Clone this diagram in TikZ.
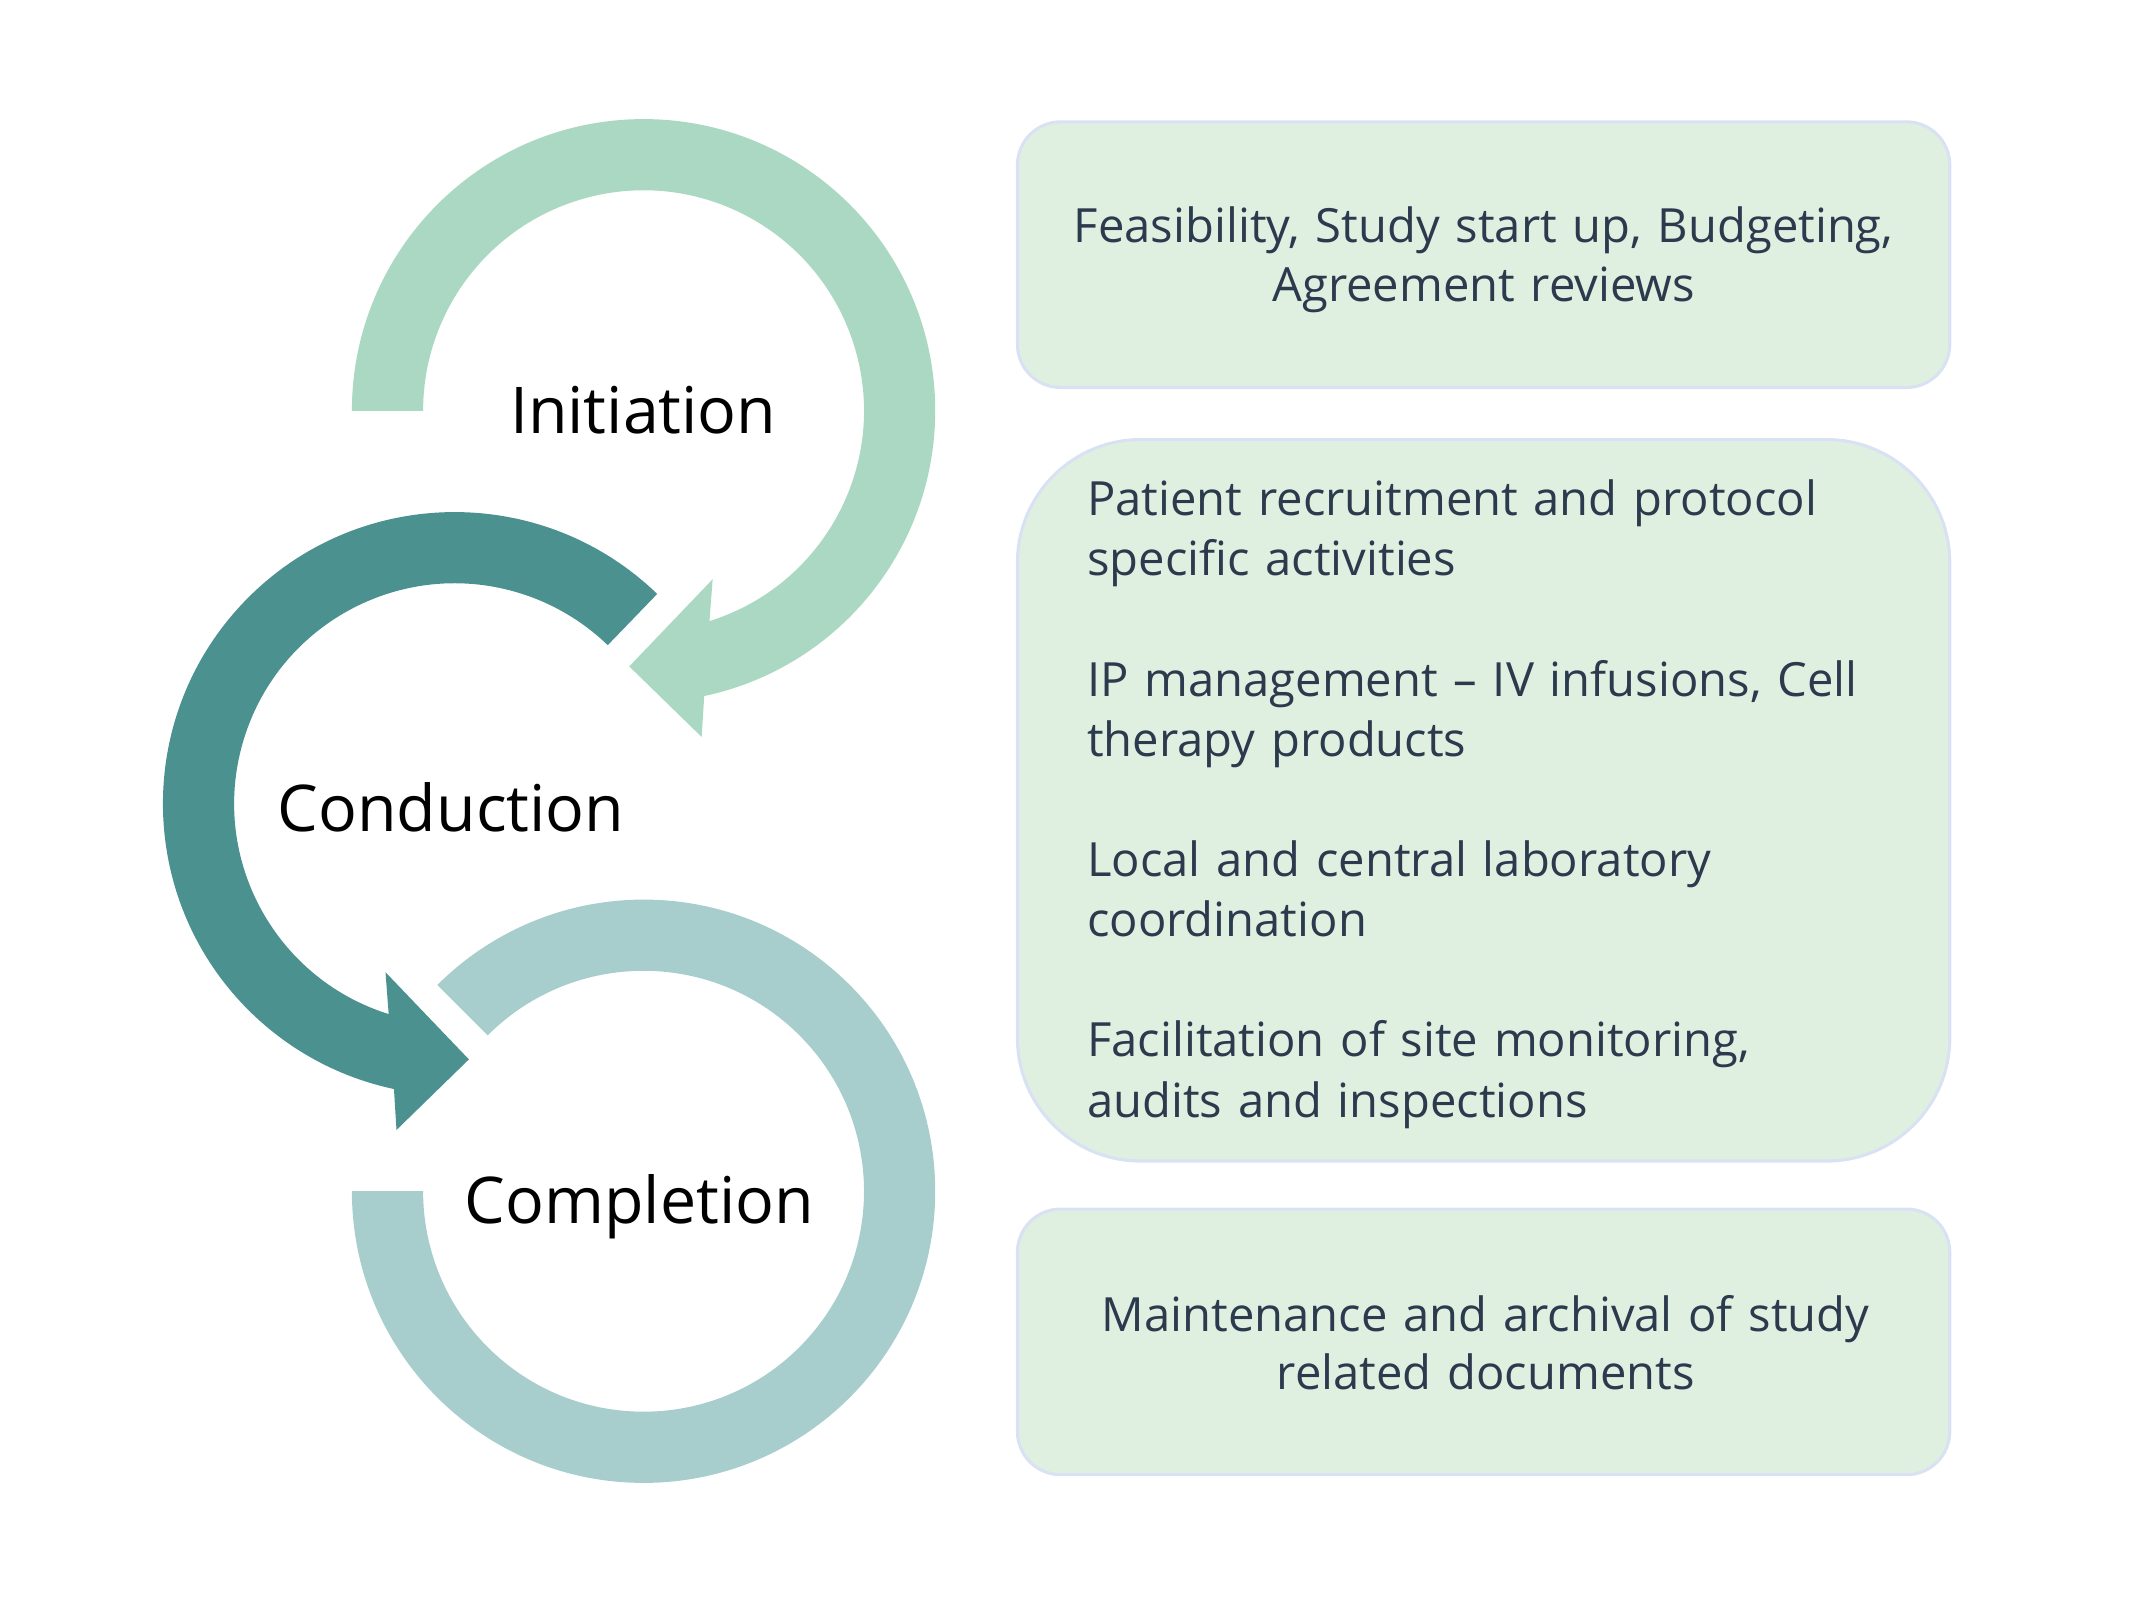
\documentclass[tikz,border=0pt]{standalone}
\usepackage{fontspec}
\setmainfont{Open Sans}
\usepackage{tikz}
\usetikzlibrary{positioning, calc}
\definecolor{initc}{RGB}{171,216,195}
\definecolor{condc}{RGB}{74,145,144}
\definecolor{compc}{RGB}{168,205,205}
\definecolor{boxfill}{RGB}{224,240,224}
\definecolor{boxline}{RGB}{217,226,243}
\definecolor{ink}{RGB}{44,58,78}

\begin{document}
\begin{tikzpicture}[x=0.02cm, y=0.02cm,
    p/.style={font=\fontsize{26.8}{32}\selectfont, text=black, anchor=base},
    b/.style={draw=boxline, line width=1.3pt, fill=boxfill, minimum width=13.62cm, inner sep=0pt},
    t/.style={text=ink, font=\fontsize{19.6}{24.8}\selectfont, inner sep=0pt, anchor=base}]
  \useasboundingbox (0,0) rectangle (1568,1179);
  \coordinate (ci) at (470,879);
  \coordinate (cn) at (332,592);
  \coordinate (cm) at (470,309);
  % rings
  \fill[initc] ($(ci)+(180:213)$) arc[start angle=180, end angle=-78, radius=213]
    -- ($(ci)+(-79.9:242)$) -- ($(ci)+(-93.2:187)$) -- ($(ci)+(-67.7:133)$)
    -- ($(ci)+(-72.6:161)$) arc[start angle=-72.6, end angle=180, radius=161] -- cycle;
  \fill[condc] ($(cn)+(46:213)$) arc[start angle=46, end angle=258, radius=213]
    -- ($(cn)+(259.9:242)$) -- ($(cn)+(273.2:187)$) -- ($(cn)+(247.7:133)$)
    -- ($(cn)+(252.6:161)$) arc[start angle=252.6, end angle=46, radius=161] -- cycle;
  \fill[compc] ($(cm)+(180:213)$) arc[start angle=180, end angle=495, radius=213]
    -- ($(cm)+(495:161)$) arc[start angle=495, end angle=180, radius=161] -- cycle;
  \node[p] (init) at (469.8,862.5) {Initiation};
  \node[p] (cond) at (329.4,571.6) {Conduction};
  \node[p] (comp) at (467,285.1) {Completion};
  % boxes
  \node[b, minimum height=3.88cm, rounded corners=0.63cm] (b1) at (1083.5,993) {};
  \node[b, minimum height=10.54cm, rounded corners=1.8cm] (b2) at (1083.5,594.5) {};
  \node[b, minimum height=3.88cm, rounded corners=0.63cm] (b3) at (1083.5,199) {};
  \node[t, text width=13cm, align=center] (t1) at (1083.5,1002)
    {Feasibility, Study start up, Budgeting,\\Agreement reviews};
  \node[t, text width=11.58cm, align=left, font=\fontsize{19.6}{25}\selectfont] (t2) at (1083.5,802.4)
    {Patient recruitment and protocol\\specific activities\\[25pt]
     IP management -- IV infusions, Cell\\therapy products\\[25pt]
     Local and central laboratory\\coordination\\[25pt]
     Facilitation of site monitoring,\\audits and inspections};
  \node[t, text width=13cm, align=center, font=\fontsize{19.6}{24.4}\selectfont] (t3) at (1085,206.9)
    {Maintenance and archival of study\\related documents};
\end{tikzpicture}
\end{document}
